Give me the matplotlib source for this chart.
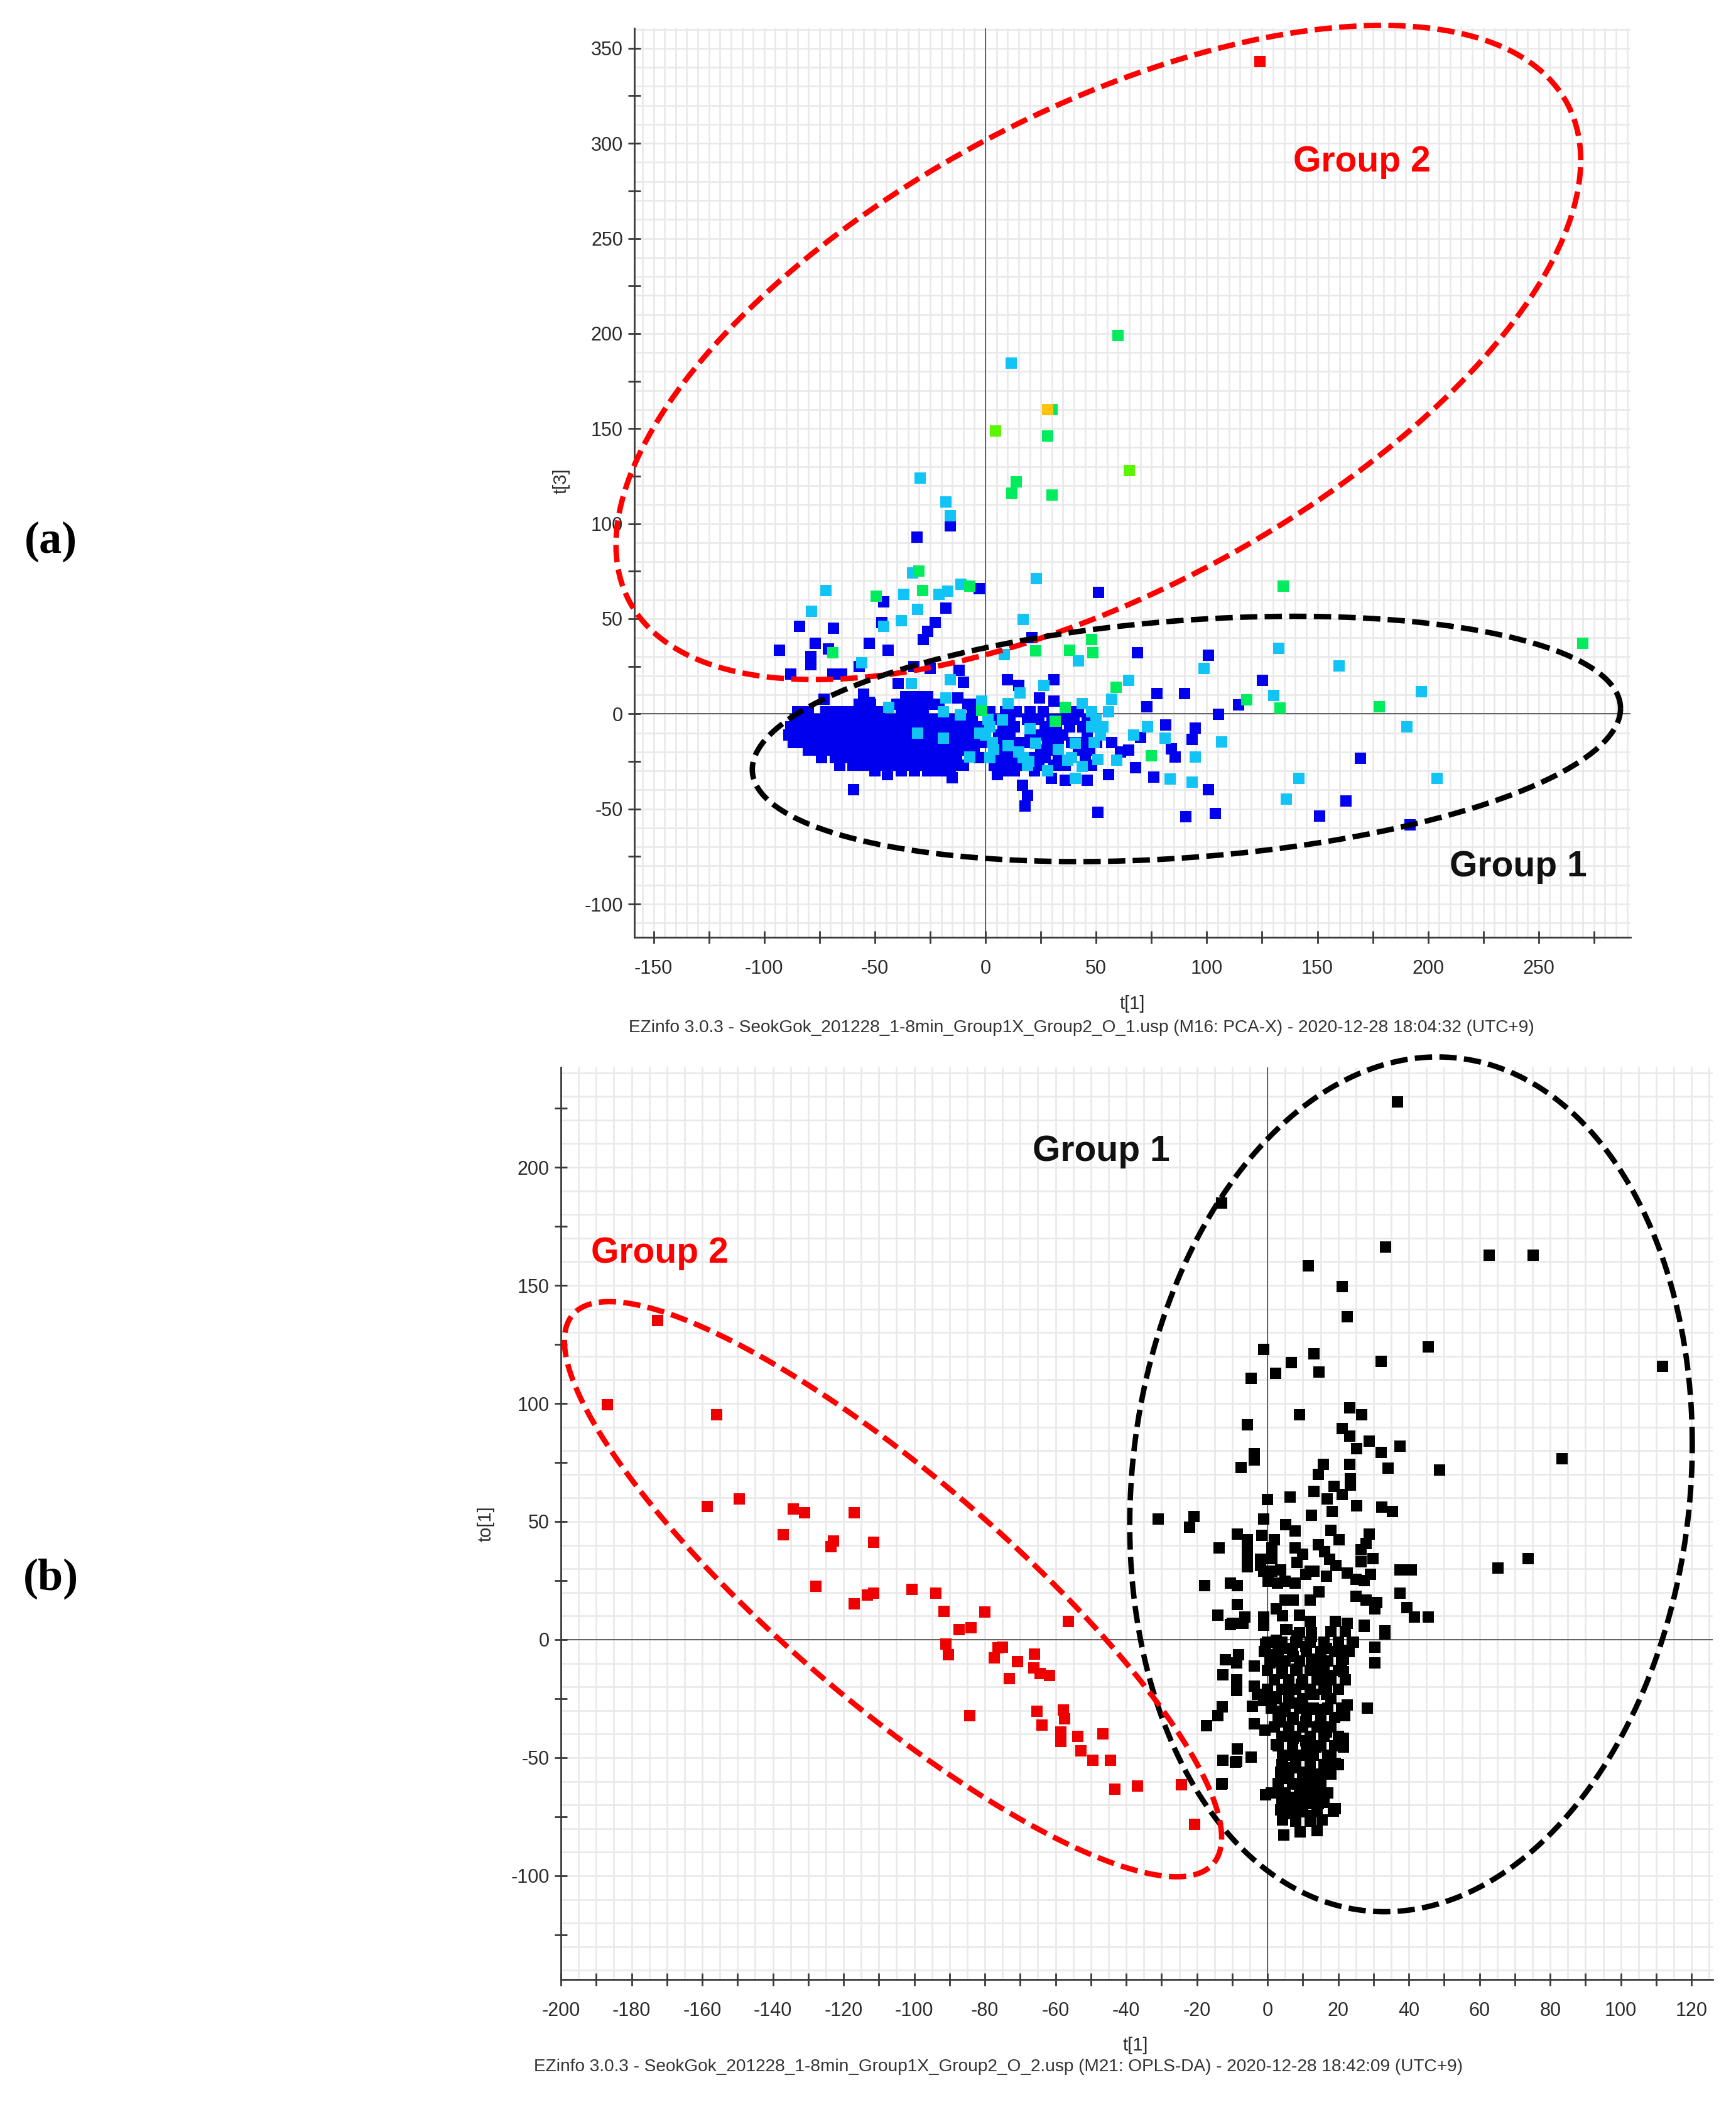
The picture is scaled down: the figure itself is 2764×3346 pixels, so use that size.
import matplotlib
matplotlib.use('Agg')
import matplotlib.pyplot as plt
import numpy as np
from matplotlib.ticker import MultipleLocator, FixedLocator

plt.rcParams['font.family'] = ['Liberation Sans', 'DejaVu Sans']
plt.rcParams['axes.unicode_minus'] = False

# ---------------- data: panel (a) PCA-X score plot  t[1] vs t[3] ----------------
pca_red = [(124, 343)]
pca_orange = [(28, 160)]
pca_lime = [(4.5, 148.6), (65, 128)]
pca_green = [(60, 199), (30, 160), (28, 146), (14, 122), (12, 116), (30, 115), (-30, 75), (-7, 67),
             (134.6, 67), (-49.5, 62), (-28.5, 65), (-69, 32), (22.7, 33), (38, 33.5), (48, 39),
             (48.5, 32), (270, 37), (133, 3), (118, 7.5), (178, 3.6), (59, 14), (75, -22), (36, 3.3),
             (-1.6, 1.7), (31.4, -3.9)]
pca_cyan = [(11.7, 184.5), (-29.5, 124), (-18, 111.5), (-16, 104), (-33, 74), (-11, 68), (23, 71),
            (-72, 65), (-37, 63), (-21, 63), (-17, 64.6), (-78.6, 54), (-46, 46), (-38, 49), (-30.6, 55),
            (17, 49.5), (-56, 27), (42, 28), (98.7, 24), (132.5, 34.4), (159.8, 25.1), (130.2, 9.7),
            (196.9, 11.7), (64.8, 17.6), (57.1, 7.6), (55.6, 1), (190.5, -7), (73.2, -6.8), (106.8, -14.9),
            (81.3, -12.9), (67.1, -11.2), (94.8, -22.8), (50.9, -23.9), (59.4, -24.4), (83.3, -34.1),
            (93.3, -36), (141.7, -34), (204.1, -34), (135.9, -44.8), (-16, 18), (-33.5, 16), (-18, 8.3),
            (-43.8, 3.3), (8.6, 31), (26.5, 15), (15.7, 11), (43.8, 5.5), (10.3, 5.5), (-1.6, 6.6),
            (-30.8, -10), (-19, -12.7), (-7, -22.7), (-11.4, -0.5), (-19, 1), (-2.7, -10), (3.8, -18.8),
            (10.3, -16.6), (15, -20), (19.5, -25), (20, -7.7), (22.7, -15.5), (33, -18.8), (37.3, -24.3),
            (40.5, -15.5), (43.8, -27.6), (40.5, -34), (7.6, -3.3), (1, -3), (2, -7), (0, -11), (3, -15),
            (48, -7), (53, -7), (52, -11), (49, -15), (50, -3), (48, 1), (28, -30), (2, -23), (17, -23),
            (39, -23), (19, -27)]
pca_blue = [(-16, 99), (-31, 93), (-3, 66), (51, 64), (-18, 55.6), (-84, 46), (-68.7, 45), (-47, 48),
            (-22.7, 48), (-93, 33.5), (-77, 37), (-71, 34), (-79, 30), (-79, 26), (-44, 33.5), (-26, 43.5),
            (-28, 39), (-88, 21), (-69, 21), (-65, 21), (-57, 25), (-46, 59), (-52.4, 37), (-32.4, 25),
            (-25, 24), (-12, 23), (-10, 16.5), (-39.5, 16), (-55, 10.5), (-52.4, 6), (-73, 7.7),
            (-12.4, 8.3), (21, 40), (10, 18), (15, 15), (30.8, 18), (24.3, 8.3), (31, 6.6), (-44.3, -32),
            (-59.5, -39.8), (-15, -33.7), (5.4, -32), (16.8, -37.6), (19, -43), (17.8, -48.6), (29.7, -34),
            (36, -35), (46, -35), (68.6, 32.2), (100.7, 30.8), (125.1, 17.6), (77.4, 10.6), (89.9, 10.6),
            (72.9, 3.6), (114.3, 4.7), (105.3, -0.2), (81.4, -5.9), (94.8, -7.4), (93.3, -13.4),
            (70.2, -12.3), (57.1, -15.1), (50.2, -15.1), (84, -18.4), (85.6, -22.8), (64.8, -18.9),
            (60.9, -20), (67.9, -28.3), (55.6, -32.1), (76, -33.4), (100.7, -39.8), (163, -45.9),
            (169.5, -23.3), (151, -53.6), (191.8, -58.5), (50.9, -51.9), (90.5, -54.1), (104, -52.5)]
# dense blue core, read row by row (t[3] value : t[1] values)
pca_blue_rows = {
    9: [-36, -31, -26],
    5: [-57, -52, -40, -35, -30, -26, -21, -8, -3],
    1: [-85, -80, -72, -68, -63, -58, -53, -48, -38, -33, -28, -6, 2, 9, 14, 20, 26, 37, 42],
    -3: [-86, -81, -76, -71, -66, -61, -56, -51, -46, -41, -36, -31, -26, -21, -16, -11, -6, 6, 11, 19,
         24, 30, 35, 40, 46],
    -7: [-88, -83, -78, -73, -68, -63, -58, -53, -48, -43, -38, -33, -28, -23, -18, -13, -8, -3, 8, 13,
         27, 32, 38, 44],
    -11: [-89, -84, -79, -74, -69, -64, -59, -54, -49, -44, -39, -34, -29, -24, -14, -9, -4, 6, 11, 20,
          25, 30, 35, 46],
    -15: [-87, -82, -77, -72, -67, -62, -57, -52, -47, -42, -37, -32, -27, -22, -17, -12, -7, -2, 8, 13,
          18, 28, 33, 39, 44],
    -19: [-80, -75, -70, -65, -60, -55, -50, -45, -40, -35, -30, -25, -20, -15, -10, -5, 5, 10, 25, 30,
          42, 47],
    -23: [-74, -68, -63, -58, -53, -48, -43, -38, -33, -28, -23, -18, -13, -3, 7, 12, 22, 27, 33, 45],
    -27: [-66, -60, -55, -50, -45, -40, -35, -30, -25, -20, -15, -10, 4, 9, 14, 24, 31, 36, 48],
    -30: [-50, -38, -32, -26, -21, -16, 8, 13, 22],
}

# ---------------- data: panel (b) OPLS-DA score plot  t[1] vs to[1] ----------------
opls_red = [(-172.7, 135.1), (-186.8, 99.6), (-156, 95.3), (-158.6, 56.3), (-149.5, 59.5), (-134.3, 55.2),
            (-131, 53.8), (-117, 53.8), (-137, 44.4), (-122.8, 41.8), (-123.5, 39.3), (-111.4, 41.3),
            (-127.8, 22.5), (-117, 15.1), (-113.3, 18.8), (-111.4, 19.6), (-100.7, 21.3), (-93.8, 19.6),
            (-91.6, 11.9), (-80, 11.7), (-87.3, 4.3), (-84, 5.1), (-56.3, 7.7), (-91, -2), (-90.3, -6.3),
            (-76.3, -3.4), (-75, -3.1), (-77.3, -7.7), (-70.8, -9.4), (-65.9, -6), (-66.1, -11.9),
            (-73, -16.5), (-64.3, -14.5), (-61.7, -15.1), (-84.3, -32.1), (-65.2, -30.4), (-63.9, -36.1),
            (-57.8, -29.9), (-57.4, -33.6), (-58.5, -39), (-58.5, -43), (-53.7, -41), (-52.8, -47),
            (-49.4, -51.2), (-46.6, -39.8), (-44.4, -51.2), (-43.3, -63.4), (-36.8, -62), (-24.3, -61.5),
            (-20.6, -78.2)]
opls_black = [(36.8, 227.6), (-13, 184.9), (33.4, 166.1), (62.8, 162.7), (75.2, 162.7), (11.5, 158.2),
              (21.2, 149.6), (22.5, 136.6), (45.5, 124), (111.8, 115.8), (-1.1, 122.9), (13.2, 120.9),
              (32.1, 117.8), (6.7, 117.2), (83.4, 76.5), (48.7, 71.7), (73.7, 34.4), (65.2, 30.2),
              (-4.7, 110.6), (2.2, 112.9), (14.6, 113.3), (9, 95.1), (23.2, 98.2), (26.7, 95.1),
              (-5.7, 91), (21.1, 89.4), (23.2, 86.3), (25.3, 80.9), (28.8, 84), (32.1, 79.2), (37.4, 81.8),
              (-3.7, 78.7), (-3.7, 76.1), (-7.5, 73), (15.8, 74.3), (14.3, 69.9), (23.2, 74.3),
              (34.1, 72.5), (23.5, 68.1), (23.5, 65.4), (18.8, 65), (21.1, 61.4), (13.1, 62.8),
              (6.3, 60.5), (0, 59.2), (16.8, 59.7), (18.2, 54.3), (25.3, 56.6), (32.4, 56.1), (35.3, 54.3),
              (12.5, 52.6), (-31, 51.1), (-20.9, 52.1), (-22.1, 47.7), (-1.1, 51.1), (5.1, 48.8),
              (7.8, 45.9), (-1.7, 44.1), (-8.5, 44.6), (-5.8, 42.4), (1.9, 42.4), (17.9, 46.4), (20.2, 42.4),
              (28.8, 44.6), (27.9, 40.6), (-13.8, 38.7), (-5.8, 38.8), (-5.8, 34.4), (-5.8, 30.9), (-2, 34),
              (1.3, 38.8), (1.3, 34.4), (7.8, 38.8), (9.9, 36.2), (8.4, 32.6), (14.3, 40.2), (16.1, 37.1),
              (17.6, 34), (19.3, 31.3), (26.4, 37.9), (26.4, 33.1), (29.9, 34.4), (-2, 31.3), (-1.1, 29.1),
              (1.3, 29.1), (3.7, 29.5), (12, 29.1), (13.1, 29.1), (16.7, 26.9), (22.6, 28.2), (25, 25.5),
              (29.1, 27.7), (27.3, 25.1), (37.4, 29.5), (40.7, 29.5), (-17.8, 22.9), (-10.5, 23.8),
              (-8.5, 22.9), (0.1, 24.6), (2.8, 23.8), (4.9, 24.6), (7.8, 23.8), (10.8, 27.7), (14.6, 20.2),
              (12, 16.7), (4.9, 16.7), (7.2, 16.7), (25, 18.4), (27.9, 16.7), (30.9, 15.8), (30.3, 13.1),
              (37.4, 19.8), (39.5, 13.6), (41.5, 9.6), (45.4, 9.6), (-8.5, 14.9), (-14.1, 10.5),
              (-9.9, 6.9), (-6.4, 9.6), (-1.1, 9.6), (-1.1, 6), (2.5, 13.1), (4.3, 10), (9, 10.5),
              (12, 7.8), (19.1, 7.8), (22.6, 6.9), (27.3, 6), (33.3, 3.8), (5.4, 4.3), (9, 2.9),
              (12.5, 2.9), (17.9, 3.4), (22, 3.4),
              (-10.5, 6.5), (-7, 6.9), (5.1, 4.3), (27.3, 5.6), (33.3, 2.5), (30.3, -3.3), (30.3, -9.9),
              (-0.5, -2), (2.5, -0.2), (8.4, 1.6), (12.5, 1.2), (24.4, -1.1), (21.4, -4.6), (16.7, -3.7),
              (10.8, -2.8), (4.9, -3.7), (1.3, -6.4), (0.7, -9.9), (4.3, -9.9), (7.2, -7.3), (12.5, -8.2),
              (15.5, -9.9), (21.4, -8.2), (21.4, -13.5), (4.3, -14.4), (8.4, -12.6), (14.3, -13.5),
              (17.3, -15.2), (-12, -8.6), (-8.2, -6.4), (-8.8, -9.9), (-3.7, -11.3), (-12.6, -14.8),
              (-8.8, -17), (-8.8, -21.5), (-3.7, -19.7), (-2.8, -23.2), (-4.3, -28.1), (-1.1, -25.9),
              (2.5, -24.1), (6, -21.5), (9.6, -18.8), (13.1, -23.2), (16.7, -18.8), (16.7, -23.2),
              (7.2, -26.8), (12, -29.4), (16.1, -29.4), (22.6, -27.7), (28.2, -29), (21.9, -32.1),
              (-12.9, -28.5), (-14.1, -32.1), (-17.3, -36.5), (-3.7, -35.6), (-0.8, -38.3), (4.3, -30.3),
              (3.7, -34.8), (7.2, -33.9), (10.8, -34.8), (14.9, -36.5), (16.7, -39.2), (2.5, -44.5),
              (7.2, -41.8), (10.8, -42.7), (13.6, -45.4), (21.4, -41.8), (21.4, -45.4), (-8.5, -46.3),
              (-8.8, -51.6), (-4.6, -49.8), (-12.6, -51.2), (4.3, -49.8), (7.2, -48.9), (12, -49.8),
              (17.9, -49.8), (19.1, -52.5), (3.7, -56), (7.2, -54.3), (10.8, -56), (15.5, -56.9),
              (17.9, -56.9), (4.3, -58.7), (10.1, -58.7), (14.3, -59.6), (-12.9, -60.9), (-0.5, -65.8),
              (3.1, -64.9), (6.6, -66.7), (10.8, -64), (14.3, -64.9), (3.7, -72), (7.2, -70.2),
              (10.8, -69.3), (14.3, -69.3), (19.1, -71.5), (4.3, -76.4), (15.5, -76.4), (4.6, -82.6),
              (9.3, -81.3), (14, -80.9), (8.4, -61.3), (13.1, -61.3), (7.2, -73.8), (12, -74.6),
              (21.4, -43.6), (18.6, -72.5), (-13, -61.2), (-9.1, -51.8)]
# dense black core, read row by row (to[1] value : t[1] values)
opls_black_rows = {
    -1: [0, 4, 8, 12, 16, 20, 24],
    -5: [-1, 3, 7, 11, 15, 19, 23],
    -9: [1, 5, 9, 13, 17, 21],
    -13: [0, 4, 8, 12, 16, 20],
    -17: [2, 6, 10, 14, 18, 22],
    -21: [0, 4, 8, 12, 16, 20],
    -25: [2, 6, 10, 18],
    -29: [1, 5, 9, 13, 17, 21],
    -33: [3, 7, 11, 15, 19],
    -37: [2, 6, 10, 14, 18],
    -41: [4, 8, 12, 16, 20],
    -45: [3, 7, 11, 15, 19],
    -49: [5, 9, 13, 17],
    -53: [4, 8, 12, 16, 20],
    -57: [6, 10, 14, 18],
    -61: [3, 7, 11, 15],
    -65: [1, 5, 9, 13, 17],
    -69: [4, 8, 12, 16],
    -73: [6, 10, 14],
    -77: [8, 12],
}

# hand-drawn group ellipses: centre x, centre y, half-width, half-height, phase (deg)
pca_group2_ell = [51, 190, 218, 172, 54]
pca_group1_ell = [90.8, -13.2, 196.2, 64.5, 75.6]
opls_group1_ell = [40.6, 65.75, 79.6, 180.95, 84.6]
opls_group2_ell = [-106, 21.35, 93, 121.75, 149.7]

footer_a = "EZinfo 3.0.3 - SeokGok_201228_1-8min_Group1X_Group2_O_1.usp (M16: PCA-X) - 2020-12-28 18:04:32 (UTC+9)"
footer_b = "EZinfo 3.0.3 - SeokGok_201228_1-8min_Group1X_Group2_O_2.usp (M21: OPLS-DA) - 2020-12-28 18:42:09 (UTC+9)"

# ---------------- drawing ----------------
W, H = 2764, 3346
fig = plt.figure(figsize=(W / 100, H / 100), dpi=100)


def ax_rect(l, t, r, b):
    return [l / W, 1 - b / H, (r - l) / W, (b - t) / H]


MS = 13
LABEL_C = '#2b2b2b'


def style_axes(ax, xlim, ylim, xmaj, xmin, ymaj, ymin):
    ax.set_xlim(*xlim)
    ax.set_ylim(*ylim)
    for s in ['top', 'right']:
        ax.spines[s].set_visible(False)
    for s in ['left', 'bottom']:
        ax.spines[s].set_color('#3a3a3a')
        ax.spines[s].set_linewidth(2.0)
    # light grid
    for gx in np.arange(np.ceil(xlim[0] / 5) * 5, xlim[1], 5):
        ax.axvline(gx, color='#e9e9e9', lw=1.9, zorder=0)
    for gy in np.arange(np.ceil(ylim[0] / 10) * 10, ylim[1], 10):
        ax.axhline(gy, color='#e9e9e9', lw=1.9, zorder=0)
    ax.axvline(0, color='#555555', lw=1.3, zorder=1)
    ax.axhline(0, color='#555555', lw=1.3, zorder=1)
    ax.xaxis.set_major_locator(MultipleLocator(xmaj))
    ax.xaxis.set_minor_locator(FixedLocator(xmin))
    ax.yaxis.set_major_locator(MultipleLocator(ymaj))
    ax.yaxis.set_minor_locator(FixedLocator(ymin))
    ax.tick_params(which='both', direction='inout', length=14, width=2.0, color='#3a3a3a')
    ax.tick_params(axis='x', which='major', pad=18, labelsize=22, labelcolor=LABEL_C)
    ax.tick_params(axis='y', which='major', pad=6, labelsize=22, labelcolor=LABEL_C)
    ax.set_facecolor('white')


def draw_points(ax, pts, color, z=3):
    arr = np.array(pts, dtype=float)
    ax.plot(arr[:, 0], arr[:, 1], 's', ms=MS, mew=0, color=color, zorder=z, clip_on=False)


def draw_ellipse(ax, p, color):
    cx, cy, rx, ry, ph = p
    t = np.linspace(0, 2 * np.pi, 800)
    x = cx + rx * np.cos(t)
    y = cy + ry * np.cos(t - np.deg2rad(ph))
    ax.plot(x, y, color=color, lw=6.2, linestyle=(0, (3.2, 1.35)), dash_capstyle='butt',
            zorder=10, clip_on=False)


# ---- panel (a)
ax1 = fig.add_axes(ax_rect(1010, 45, 2596, 1492))
style_axes(ax1, (-158.7, 291.5), (-117.5, 360.5), 50, np.arange(-125, 291, 50), 50,
           np.arange(-75, 360, 50))
rows_a = [(x, y) for y, xs in pca_blue_rows.items() for x in xs]
draw_points(ax1, pca_blue + rows_a, '#0000ee', 3)
draw_points(ax1, pca_cyan, '#12c3f6', 4)
draw_points(ax1, pca_green, '#00ec5c', 5)
draw_points(ax1, pca_lime, '#5cf500', 5)
draw_points(ax1, pca_orange, '#ffc20e', 6)
draw_points(ax1, pca_red, '#ff0000', 6)
draw_ellipse(ax1, pca_group2_ell, '#ff0000')
draw_ellipse(ax1, pca_group1_ell, '#000000')
ax1.text(170, 290, 'Group 2', color='#ff0000', fontsize=41, fontweight='bold',
         ha='center', va='center', zorder=12)
ax1.text(240.7, -80.5, 'Group 1', color='#111111', fontsize=41, fontweight='bold',
         ha='center', va='center', zorder=12)

# ---- panel (b)
ax2 = fig.add_axes(ax_rect(893, 1699, 2727, 3151))
style_axes(ax2, (-200, 126), (-143.9, 242.3), 20, np.arange(-190, 126, 20), 50,
           np.arange(-125, 242, 50))
rows_b = [(x, y) for y, xs in opls_black_rows.items() for x in xs]
draw_points(ax2, opls_black + rows_b, '#000000', 3)
draw_points(ax2, opls_red, '#ee0000', 4)
draw_ellipse(ax2, opls_group1_ell, '#000000')
draw_ellipse(ax2, opls_group2_ell, '#ff0000')
ax2.text(-47, 206.7, 'Group 1', color='#111111', fontsize=41, fontweight='bold',
         ha='center', va='center', zorder=12)
ax2.text(-172, 163.5, 'Group 2', color='#ff0000', fontsize=41, fontweight='bold',
         ha='center', va='center', zorder=12)

# ---- axis titles, footers, panel letters (pixel placed)
def ftext(px, py, s, **kw):
    fig.text(px / W, 1 - py / H, s, **kw)


ftext(1803, 1598, 't[1]', fontsize=21, color=LABEL_C, ha='center', va='center')
ftext(894, 766, 't[3]', fontsize=21, color=LABEL_C, ha='center', va='center', rotation=90)
ftext(1722, 1636, footer_a, fontsize=20.2, color='#333333', ha='center', va='center')
ftext(1808, 3256, 't[1]', fontsize=21, color=LABEL_C, ha='center', va='center')
ftext(774, 2426, 'to[1]', fontsize=21, color=LABEL_C, ha='center', va='center', rotation=90)
ftext(1590, 3290, footer_b, fontsize=20.2, color='#333333', ha='center', va='center')
ftext(81, 862, '(a)', fontsize=52, fontweight='bold', family='Liberation Serif',
      ha='center', va='center', color='black')
ftext(81, 2513, '(b)', fontsize=52, fontweight='bold', family='Liberation Serif',
      ha='center', va='center', color='black')

fig.savefig('out.png', dpi=100, facecolor='white')
